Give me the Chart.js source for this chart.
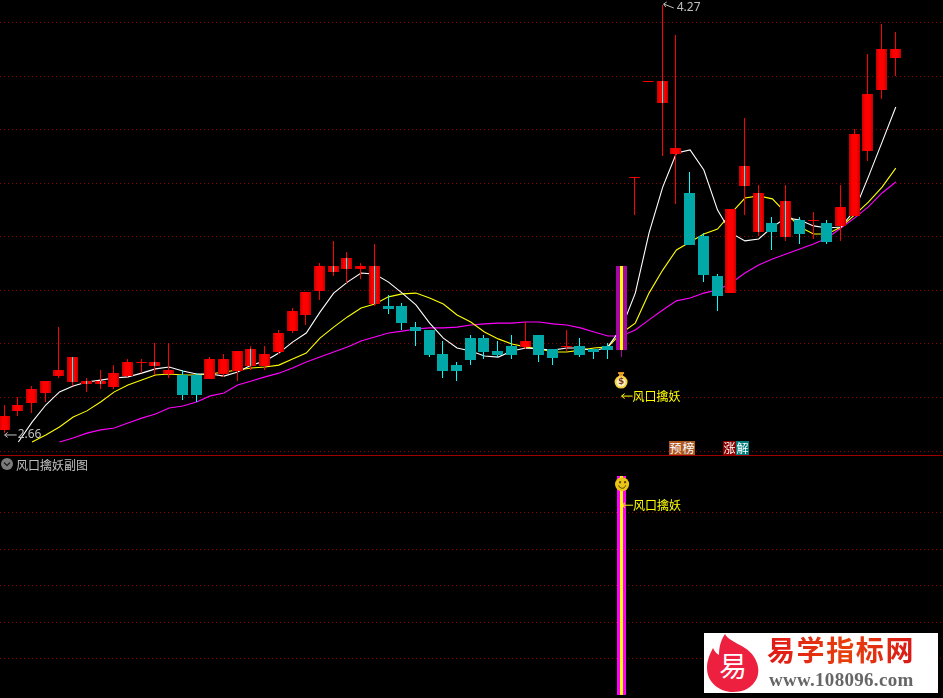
<!DOCTYPE html>
<html>
<head>
<meta charset="utf-8">
<title>风口擒妖</title>
<script src="https://cdn.jsdelivr.net/npm/chart.js@4"></script>
<style>
    html, body { margin: 0; padding: 0; background: #000; width: 943px; height: 698px; overflow: hidden; }
    body, div, span { font-family: "Noto Sans CJK SC", sans-serif; }
    #mainWrap { position: absolute; left: 0; top: 0; width: 943px; height: 455px; }
    #subWrap { position: absolute; left: 0; top: 456px; width: 943px; height: 242px; }
    #divider { position: absolute; left: 0; top: 455px; width: 943px; height: 1px; background: #a00000; }
    #subTitle { position: absolute; left: 16px; top: 456px; height: 17px; line-height: 17px; font-size: 12px; color: #c0c0c0; white-space: nowrap; }
    #toggle { position: absolute; left: 1px; top: 458px; }
    .badge { position: absolute; top: 441px; width: 13px; height: 14px; line-height: 14px; font-size: 12px; color: #fff; text-align: center; overflow: hidden; }
    #logo { position: absolute; left: 704px; top: 633px; width: 234px; height: 60px; background: #fff; }
    #logoName { position: absolute; left: 63px; top: 0px; height: 33px; line-height: 33px; font-size: 28px; font-weight: 700; letter-spacing: 1.6px; white-space: nowrap;
        background: linear-gradient(90deg, #e01818 0%, #e8400c 55%, #d81818 100%); -webkit-background-clip: text; background-clip: text; color: transparent; }
    #logoUrl { position: absolute; left: 65px; top: 35px; font-family: "Liberation Serif", serif; font-weight: 700; font-size: 19px; letter-spacing: 0.3px; line-height: 24px; color: #666; white-space: nowrap; }
</style>
</head>
<body>
<div id="mainWrap"><canvas id="mainChart"></canvas></div>
<div id="divider"></div>
<div id="subWrap"><canvas id="subChart"></canvas></div>

<svg id="toggle" width="12" height="12" viewBox="0 0 12 12">
    <circle cx="6" cy="6" r="6" fill="#7c7c7c"/>
    <path d="M3 4.5 L6 7.5 L9 4.5" fill="none" stroke="#222" stroke-width="1.4"/>
</svg>
<div id="subTitle">风口擒妖副图</div>

<div class="badge" style="left:669px;background:#b0541e">预</div>
<div class="badge" style="left:682px;background:#a85a28">榜</div>
<div class="badge" style="left:723px;background:#8b0000">涨</div>
<div class="badge" style="left:736px;background:#007c7c">解</div>

<div id="logo">
    <svg width="60" height="60" viewBox="704 633 60 60" style="position:absolute;left:0;top:0">
        <path d="M725 634 C729 642 745 645 752 654 C758 662 760 670 757 678 C752 688 744 692 733 692 C719 692 707 682 707 668 C707 660 710 654 713 648 C715 652 717 654 719 655 C719 646 721 640 725 634 Z" fill="#ee2040"/>
        <text x="733" y="677" font-size="28" fill="#fff" text-anchor="middle" font-family="Noto Sans CJK SC">易</text>
    </svg>
    <div id="logoName">易学指标网</div>
    <div id="logoUrl">www.108096.com</div>
</div>

<script>
// daily candles
const opens = [2.679, 2.750, 2.779, 2.817, 2.880, 2.858, 2.850, 2.850, 2.839, 2.880, 2.929, 2.918, 2.888, 2.884, 2.884, 2.869, 2.888, 2.899, 2.918, 2.918, 2.970, 3.048,
    3.108, 3.198, 3.269, 3.280, 3.280, 3.149, 3.142, 3.142, 3.063, 3.052, 2.962, 2.921, 3.022, 3.022, 2.974, 2.992, 2.989, 3.033, 2.981, 2.989, 2.992, 2.981,
    2.992, 2.977, 3.620, 3.979, 3.900, 3.710, 3.564, 3.403, 3.254, 3.190, 3.590, 3.418, 3.452, 3.400, 3.463, 3.459, 3.452, 3.441, 3.478, 3.721, 3.949, 4.068];
const closes = [2.731, 2.772, 2.832, 2.862, 2.903, 2.951, 2.862, 2.862, 2.891, 2.933, 2.933, 2.933, 2.903, 2.809, 2.809, 2.944, 2.944, 2.974, 2.981, 2.962, 3.041, 3.123,
    3.194, 3.291, 3.291, 3.321, 3.291, 3.291, 3.131, 3.078, 3.048, 2.959, 2.899, 2.899, 2.940, 2.970, 2.959, 2.959, 3.011, 2.959, 2.948, 2.992, 2.959, 2.970,
    2.977, 3.291, 3.624, 3.982, 3.982, 3.732, 3.370, 3.258, 3.179, 3.504, 3.665, 3.564, 3.418, 3.534, 3.411, 3.463, 3.381, 3.512, 3.784, 3.934, 4.102, 4.102];
const highs = [2.772, 2.802, 2.843, 2.862, 3.063, 2.951, 2.873, 2.903, 2.921, 2.944, 2.944, 3.004, 3.004, 2.903, 2.891, 2.951, 2.962, 2.974, 2.992, 2.992, 3.052, 3.134,
    3.194, 3.302, 3.385, 3.344, 3.302, 3.373, 3.183, 3.153, 3.082, 3.052, 3.011, 2.933, 3.033, 3.033, 3.011, 3.033, 3.082, 3.033, 2.981, 3.052, 3.022, 2.981,
    3.004, 3.291, 3.624, 3.982, 4.266, 4.154, 3.642, 3.414, 3.261, 3.504, 3.844, 3.594, 3.474, 3.594, 3.474, 3.493, 3.463, 3.594, 3.803, 4.083, 4.195, 4.165];
const lows = [2.667, 2.731, 2.742, 2.783, 2.873, 2.843, 2.821, 2.832, 2.832, 2.877, 2.891, 2.884, 2.873, 2.791, 2.783, 2.869, 2.877, 2.862, 2.903, 2.903, 2.962, 3.041,
    3.071, 3.164, 3.254, 3.228, 3.243, 3.142, 3.112, 3.052, 2.992, 2.951, 2.873, 2.862, 2.921, 2.944, 2.951, 2.944, 2.981, 2.933, 2.921, 2.974, 2.951, 2.944,
    2.944, 2.951, 3.482, 3.979, 3.702, 3.523, 3.370, 3.231, 3.123, 3.190, 3.482, 3.403, 3.351, 3.385, 3.373, 3.392, 3.373, 3.385, 3.478, 3.684, 3.915, 4.001];

const whiteLine = [null, 2.634, 2.708, 2.772, 2.821, 2.843, 2.858, 2.865, 2.873, 2.877, 2.891, 2.907, 2.914, 2.899, 2.888, 2.888, 2.880, 2.895, 2.921, 2.936, 2.966, 3.007,
    3.041, 3.119, 3.190, 3.231, 3.265, 3.261, 3.231, 3.190, 3.146, 3.078, 3.022, 2.985, 2.974, 2.955, 2.951, 2.974, 2.985, 2.981, 2.977, 2.985, 2.985, 2.974,
    2.989, 3.060, 3.190, 3.414, 3.586, 3.713, 3.725, 3.650, 3.500, 3.414, 3.385, 3.392, 3.437, 3.471, 3.463, 3.441, 3.433, 3.437, 3.500, 3.624, 3.754, 3.885];
const yellowLine = [null, null, 2.634, 2.660, 2.690, 2.727, 2.750, 2.783, 2.821, 2.847, 2.865, 2.884, 2.888, 2.884, 2.884, 2.888, 2.895, 2.903, 2.910, 2.914, 2.921, 2.944,
    2.966, 3.022, 3.063, 3.101, 3.134, 3.149, 3.176, 3.187, 3.190, 3.172, 3.149, 3.108, 3.082, 3.045, 3.019, 3.000, 2.989, 2.981, 2.970, 2.970, 2.977, 2.985,
    2.989, 3.041, 3.078, 3.190, 3.276, 3.351, 3.381, 3.411, 3.429, 3.489, 3.545, 3.553, 3.542, 3.489, 3.437, 3.411, 3.411, 3.437, 3.482, 3.530, 3.586, 3.657];
const magentaLine = [null, null, null, null, 2.634, 2.649, 2.667, 2.679, 2.686, 2.705, 2.723, 2.738, 2.761, 2.768, 2.783, 2.806, 2.817, 2.847, 2.862, 2.877, 2.891, 2.910,
    2.933, 2.951, 2.970, 2.989, 3.011, 3.026, 3.041, 3.048, 3.056, 3.060, 3.060, 3.063, 3.071, 3.075, 3.078, 3.078, 3.082, 3.082, 3.075, 3.071, 3.060, 3.045,
    3.030, 3.030, 3.052, 3.090, 3.127, 3.161, 3.172, 3.190, 3.202, 3.228, 3.265, 3.295, 3.317, 3.336, 3.355, 3.373, 3.396, 3.433, 3.471, 3.512, 3.564, 3.605];

// red candles that carry a cyan stripe through the body
const stripedDays = [5, 6, 7, 11, 18, 24, 25, 27, 48, 54, 55, 57];
const signalDay = 45;
const signalTop = 120;
const lowPrice = 2.66;
const lowDay = 0;
const highPrice = 4.27;
const highDay = 48;
const signalText = '风口擒妖';

const days = opens.map((v, i) => i);

const RED = '#ff0000';
const TEAL = '#00a8a8';
const CYAN = '#00ffff';
const YELLOW = '#ffff00';
const SIGNAL_PURPLE = '#a408a4';
const GRID_RED = '#8c0000';
const CJK = '"Noto Sans CJK SC"';

const xAxis = { type: 'linear', display: false, offset: false, min: -0.3377, max: 68.4442 };

function snapBars(meta) {
    meta.data.forEach(el => {
        el.x = Math.floor(el.x - 0.5) + 0.5;
        el.y = Math.round(el.y);
        el.base = Math.round(el.base);
        if (el.y === el.base) el.base = el.y + 1;
    });
}

// bars sit on whole pixels so 1px wicks stay sharp
const snapPlugin = {
    id: 'snap',
    afterDatasetsUpdate(chart) {
        chart.getSortedVisibleDatasetMetas().forEach(meta => {
            if (meta.type === 'bar') snapBars(meta);
        });
    }
};

function redBody(c) {
    if (c.dataIndex === undefined) return RED;
    if (c.dataIndex === signalDay) return SIGNAL_PURPLE;
    if (closes[c.dataIndex] < opens[c.dataIndex]) return TEAL;
    const x = Math.floor(c.chart.scales.x.getPixelForValue(days[c.dataIndex]) - 0.5) + 0.5;
    if (!isFinite(x)) return RED;
    const g = c.chart.ctx.createLinearGradient(x - 5.5, 0, x + 5.5, 0);
    g.addColorStop(0, '#c40000');
    g.addColorStop(0.3, RED);
    g.addColorStop(0.7, RED);
    g.addColorStop(1, '#c40000');
    return g;
}

function wickColor(c) {
    if (c.dataIndex === signalDay) return SIGNAL_PURPLE;
    return closes[c.dataIndex] < opens[c.dataIndex] ? CYAN : RED;
}

function barSet(data, thickness, color, order) {
    return { type: 'bar', data: data, barThickness: thickness, backgroundColor: color, borderWidth: 0, inflateAmount: 0, grouped: false, order: order };
}

function lineSet(values, color, order) {
    return {
        type: 'line',
        data: values.map((v, i) => ({ x: days[i], y: v })),
        borderColor: color,
        borderWidth: 1.1,
        pointRadius: 0,
        tension: 0,
        fill: false,
        order: order
    };
}

function drawArrow(ctx, x, y, len, color) {
    ctx.strokeStyle = color;
    ctx.lineWidth = 1;
    ctx.beginPath();
    ctx.moveTo(x + len, y);
    ctx.lineTo(x, y);
    ctx.moveTo(x + 3, y - 2.5);
    ctx.lineTo(x, y);
    ctx.lineTo(x + 3, y + 2.5);
    ctx.stroke();
}

function drawSignalText(ctx, x, y) {
    drawArrow(ctx, x, y, 11, YELLOW);
    ctx.fillStyle = YELLOW;
    ctx.font = '12px ' + CJK;
    ctx.textBaseline = 'middle';
    ctx.textAlign = 'left';
    ctx.fillText(signalText, x + 11, y);
}

function drawMoneyBag(ctx, x, y) {
    ctx.fillStyle = '#f8d040';
    ctx.beginPath();
    ctx.arc(x, y + 2, 6.5, 0, Math.PI * 2);
    ctx.fill();
    ctx.fillStyle = '#fff4c8';
    ctx.beginPath();
    ctx.arc(x, y + 2, 4.5, 0, Math.PI * 2);
    ctx.fill();
    ctx.fillStyle = '#e8a020';
    ctx.fillRect(x - 3, y - 8, 6, 2);
    ctx.fillRect(x - 2, y - 6, 4, 2);
    ctx.fillStyle = '#7a3a20';
    ctx.font = 'bold 9px "DejaVu Sans"';
    ctx.textAlign = 'center';
    ctx.textBaseline = 'middle';
    ctx.fillText('$', x, y + 2);
}

function drawSmiley(ctx, x, y) {
    ctx.fillStyle = '#ecc418';
    ctx.beginPath();
    ctx.arc(x, y, 7, 0, Math.PI * 2);
    ctx.fill();
    ctx.fillStyle = '#5a4400';
    ctx.fillRect(x - 3, y - 3, 2, 2);
    ctx.fillRect(x + 2, y - 3, 2, 2);
    ctx.strokeStyle = '#5a4400';
    ctx.lineWidth = 1;
    ctx.beginPath();
    ctx.arc(x, y + 0.5, 3.5, 0.2, Math.PI - 0.2);
    ctx.stroke();
}

const mainNotes = {
    id: 'mainNotes',
    afterDraw(chart) {
        const { ctx, scales } = chart;
        const sx = scales.x, sy = scales.y;
        ctx.save();
        // lowest price
        const lx = sx.getPixelForValue(days[lowDay]), ly = sy.getPixelForValue(lowPrice);
        drawArrow(ctx, lx, ly, 12, '#c0c0c0');
        ctx.fillStyle = '#c0c0c0';
        ctx.font = '12px "Noto Sans"';
        ctx.textAlign = 'left';
        ctx.textBaseline = 'middle';
        ctx.fillText(lowPrice.toFixed(2), lx + 13, ly);
        // highest price
        const hx = sx.getPixelForValue(days[highDay]), hy = sy.getPixelForValue(highPrice);
        ctx.strokeStyle = '#c0c0c0';
        ctx.beginPath();
        ctx.moveTo(hx + 1, hy);
        ctx.lineTo(hx + 11, hy + 4);
        ctx.moveTo(hx + 1, hy);
        ctx.lineTo(hx + 4, hy - 2);
        ctx.moveTo(hx + 1, hy);
        ctx.lineTo(hx + 3, hy + 3);
        ctx.stroke();
        ctx.fillText(highPrice.toFixed(2), hx + 14, hy + 4);
        // signal marker under the bar
        const bx = sx.getPixelForValue(days[signalDay]), by = sy.getPixelForValue(lows[signalDay]);
        drawMoneyBag(ctx, bx - 0.5, by + 23);
        drawSignalText(ctx, bx, by + 39);
        ctx.restore();
    }
};

const subNotes = {
    id: 'subNotes',
    afterDraw(chart) {
        const { ctx, scales } = chart;
        const bx = scales.x.getPixelForValue(days[signalDay]), by = scales.y.getPixelForValue(signalTop);
        ctx.save();
        drawSmiley(ctx, bx + 0.5, by + 8);
        drawSignalText(ctx, bx + 0.5, by + 29);
        ctx.restore();
    }
};

function yAxis(min, max, step, skip) {
    return {
        min: min,
        max: max,
        ticks: { display: false, stepSize: step, includeBounds: false },
        border: { display: false, dash: [1, 3] },
        grid: {
            drawTicks: false,
            lineWidth: 1,
            color: c => (skip && skip(c.tick.value) ? 'transparent' : GRID_RED)
        }
    };
}

const baseOptions = {
    responsive: false,
    animation: false,
    events: [],
    layout: { padding: 0 },
    plugins: { legend: { display: false }, tooltip: { enabled: false } }
};

function initializeMainChart() {
    const canvas = document.getElementById('mainChart');
    canvas.width = 943;
    canvas.height = 455;
    const bodyData = days.map(i => ({ x: i, y: [opens[i], closes[i]] }));
    const wickData = days.map(i => ({ x: i, y: [lows[i], highs[i]] }));
    const stripeData = stripedDays.map(i => ({ x: i, y: [opens[i], closes[i]] }));
    const signalData = [{ x: signalDay, y: [opens[signalDay], closes[signalDay]] }];
    new Chart(canvas.getContext('2d'), {
        type: 'bar',
        data: {
            datasets: [
                lineSet(magentaLine, '#ff00ff', 7),
                lineSet(yellowLine, YELLOW, 6),
                lineSet(whiteLine, '#ffffff', 5),
                barSet(wickData, 1, wickColor, 4),
                barSet(bodyData, 11, redBody, 3),
                barSet(stripeData, 1, CYAN, 2),
                barSet(signalData, 3, YELLOW, 1)
            ]
        },
        options: { ...baseOptions, scales: { x: xAxis, y: yAxis(2.58522, 4.28486, 0.2) } },
        plugins: [snapPlugin, mainNotes]
    });
}

function initializeSubChart() {
    const canvas = document.getElementById('subChart');
    canvas.width = 943;
    canvas.height = 242;
    const signalBar = [{ x: signalDay, y: [0, signalTop] }];
    new Chart(canvas.getContext('2d'), {
        type: 'bar',
        data: {
            datasets: [
                barSet(signalBar, 9, '#ff00ff', 2),
                barSet(signalBar, 3, YELLOW, 1)
            ]
        },
        options: { ...baseOptions, scales: { x: xAxis, y: yAxis(-1.53, 131.07, 20, v => v <= 0 || v > 100) } },
        plugins: [snapPlugin, subNotes]
    });
}

initializeMainChart();
initializeSubChart();
</script>
</body>
</html>
